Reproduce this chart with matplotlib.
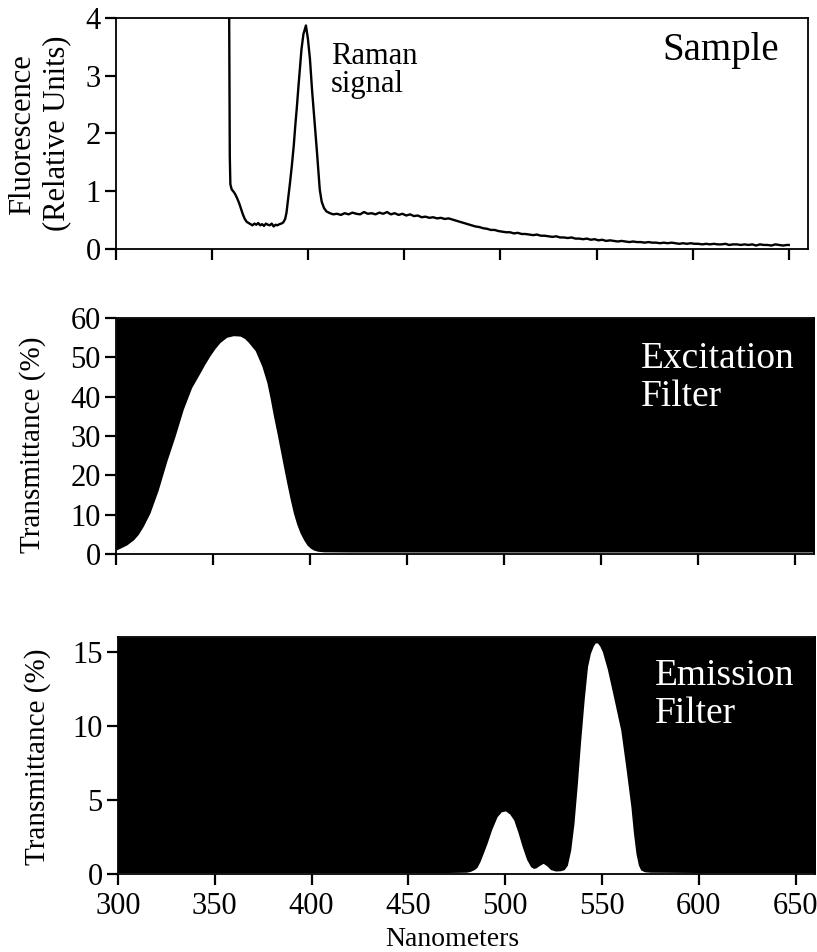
import matplotlib
matplotlib.use("Agg")
import matplotlib.pyplot as plt

plt.rcParams['font.family'] = ['Liberation Serif', 'DejaVu Serif']

# ---------------- data ----------------
xticks = [300, 350, 400, 450, 500, 550, 600, 650]

sample_nm = [358.8, 359.2, 359.5, 360.2, 361.0, 362.0, 363.0, 364.0, 365.0, 366.0, 367.0,
             368.0, 369.0, 370.0, 371.0, 372.0, 373.0, 374.0, 375.0, 376.0, 377.0, 378.0,
             379.0, 380.0, 381.0, 382.0, 383.0, 384.0, 385.0, 386.0, 387.0, 388.0, 388.7,
             389.5, 390.5, 391.5, 392.5, 393.3, 394.0, 395.0, 396.0, 396.5, 397.5, 398.8,
             399.8, 400.9, 402.0, 403.5, 404.5, 405.3, 406.0, 407.0, 408.2, 409.5, 411.3,
             413, 415, 417, 419, 421, 423, 425, 427, 429, 431, 433, 435, 437, 439, 441,
             443, 445, 447, 449, 451, 453, 455, 457, 459, 461, 463, 465, 467, 469, 471,
             473, 475, 477, 479, 481, 483, 485, 487, 489, 491, 493, 495, 497, 499, 501,
             503, 505, 507, 509, 511, 513, 515, 517, 519, 521, 523, 525, 527, 529, 531,
             533, 535, 537, 539, 541, 543, 545, 547, 549, 551, 553, 555, 557, 559, 561,
             563, 565, 567, 569, 571, 573, 575, 577, 579, 581, 583, 585, 587, 589, 591,
             593, 595, 597, 599, 601, 603, 605, 607, 609, 611, 613, 615, 617, 619, 621,
             623, 625, 627, 629, 631, 633, 635, 637, 639, 641, 643, 645, 647, 649, 650]
sample_val = [4.6, 1.6, 1.12, 1.03, 1.0, 0.95, 0.88, 0.80, 0.70, 0.60, 0.52,
              0.47, 0.45, 0.43, 0.41, 0.44, 0.42, 0.45, 0.41, 0.43, 0.40, 0.44,
              0.42, 0.41, 0.44, 0.39, 0.42, 0.41, 0.43, 0.44, 0.46, 0.52, 0.63,
              0.85, 1.14, 1.45, 1.80, 2.15, 2.42, 2.85, 3.25, 3.46, 3.72, 3.87,
              3.65, 3.29, 2.75, 2.13, 1.70, 1.35, 1.03, 0.82, 0.71, 0.65, 0.62,
              0.60, 0.61, 0.59, 0.62, 0.60, 0.63, 0.61, 0.60, 0.64, 0.61, 0.62, 0.60, 0.63, 0.61, 0.64,
              0.60, 0.62, 0.59, 0.61, 0.58, 0.60, 0.57, 0.58, 0.55, 0.56, 0.54, 0.55, 0.53, 0.54, 0.52,
              0.53, 0.51, 0.49, 0.47, 0.45, 0.43, 0.41, 0.39, 0.38, 0.36, 0.35, 0.33, 0.33, 0.31, 0.30,
              0.29, 0.29, 0.27, 0.28, 0.26, 0.26, 0.25, 0.24, 0.25, 0.23, 0.23, 0.22, 0.21, 0.22, 0.20,
              0.20, 0.19, 0.20, 0.18, 0.18, 0.17, 0.18, 0.16, 0.17, 0.15, 0.16, 0.14, 0.15, 0.14, 0.13,
              0.14, 0.13, 0.12, 0.13, 0.12, 0.12, 0.11, 0.12, 0.11, 0.11, 0.10, 0.11, 0.10, 0.11, 0.10,
              0.09, 0.10, 0.09, 0.10, 0.09, 0.09, 0.08, 0.09, 0.08, 0.09, 0.08, 0.08, 0.09, 0.07, 0.08,
              0.08, 0.07, 0.08, 0.07, 0.08, 0.06, 0.08, 0.07, 0.07, 0.06, 0.08, 0.07, 0.06, 0.07, 0.07]

excit_nm = [300, 302, 305.5, 309, 311.5, 314, 317.5, 321.8, 326.2, 330.5, 334.7, 339, 343.4,
            346, 348.5, 351, 353.7, 357.1, 360.5, 364, 366.3, 368.3, 371.8, 375.2, 377.8, 379.5,
            381.2, 383, 384.7, 386.4, 388.1, 389.8, 391.5, 393.2, 395, 396.8, 398.5, 400.2,
            401.9, 404, 407, 420, 450, 500, 550, 600, 662]
excit_val = [1.0, 1.45, 2.3, 3.6, 5.0, 7.0, 10.4, 16.3, 23.6, 30.0, 36.8, 42.3, 46.1,
             48.4, 50.4, 52.2, 53.8, 55.1, 55.5, 55.4, 54.8, 53.8, 51.7, 47.8, 43.6, 39.6,
             35.1, 30.8, 26.5, 22.2, 18.0, 14.0, 10.4, 7.6, 5.3, 3.6, 2.3, 1.5,
             1.0, 0.7, 0.55, 0.5, 0.5, 0.5, 0.5, 0.5, 0.5]

emis_nm = [299, 400, 470, 480, 482, 484, 485.4, 487, 488.5, 490.6, 493, 495.8, 498, 500.1,
           502.3, 504.4, 506.6, 508.8, 511, 513.1, 514.5, 515.7, 517.7, 519.6, 521.5, 523.4,
           526, 528.6, 530.5, 532.1, 533.8, 535.5, 537.2, 539, 540.8, 542.5, 544, 545.5,
           546.5, 547.6, 548.8, 550.2, 552.8, 556.2, 559.7, 562.3, 564.9, 566.2, 567.5,
           568.8, 570, 572, 575, 600, 662]
emis_val = [0.1, 0.1, 0.1, 0.12, 0.18, 0.3, 0.45, 0.85, 1.35, 2.07, 3.0, 3.87, 4.2, 4.26,
            4.05, 3.65, 2.8, 1.84, 1.0, 0.5, 0.38, 0.4, 0.58, 0.72, 0.55, 0.3,
            0.2, 0.22, 0.3, 0.6, 1.6, 3.4, 6.0, 9.05, 11.8, 14.0, 14.9, 15.4,
            15.6, 15.6, 15.4, 15.0, 13.8, 11.8, 9.7, 7.2, 4.55, 2.8, 1.4,
            0.6, 0.27, 0.15, 0.12, 0.1, 0.1]

XLIM = (300, 660)

# ---------------- figure ----------------
fig = plt.figure(figsize=(8.17, 9.52), dpi=100)

def px_axes(left, top, right, bottom):
    W, H = 817.0, 952.0
    return fig.add_axes([left / W, 1 - bottom / H, (right - left) / W, (bottom - top) / H])

ax1 = px_axes(116, 18, 808, 249)
ax2 = px_axes(116, 318, 814, 554)
ax3 = px_axes(118, 637, 815, 874)

tick_fs = 22
for ax in (ax1, ax2, ax3):
    ax.set_xlim(*XLIM)
    ax.set_xticks(xticks)
    ax.tick_params(axis='both', direction='out', length=8, width=1.6, labelsize=tick_fs, pad=3)
    for s in ax.spines.values():
        s.set_linewidth(1.3)

# Top panel: sample
ax1.plot(sample_nm, sample_val, color='black', lw=1.7, clip_on=True)
ax1.set_ylim(0, 4)
ax1.set_yticks([0, 1, 2, 3, 4])
ax1.set_xticklabels([])
ax1.text(0.311, 0.800, "Raman", transform=ax1.transAxes, fontsize=22, va='baseline', ha='left')
ax1.text(0.311, 0.680, "signal", transform=ax1.transAxes, fontsize=22, va='baseline', ha='left')
ax1.text(0.79, 0.818, "Sample", transform=ax1.transAxes, fontsize=28, va='baseline', ha='left')

# Middle panel: excitation filter
ax2.set_ylim(0, 60)
ax2.fill_between(excit_nm, excit_val, 60, color='black', lw=0)
ax2.set_yticks([0, 10, 20, 30, 40, 50, 60])
ax2.set_xticklabels([])
ax2.text(0.752, 0.788, "Excitation", transform=ax2.transAxes, fontsize=27, color='white',
         va='baseline', ha='left')
ax2.text(0.752, 0.627, "Filter", transform=ax2.transAxes, fontsize=27, color='white',
         va='baseline', ha='left')

# Bottom panel: emission filter
ax3.set_ylim(0, 16)
ax3.fill_between(emis_nm, emis_val, 16, color='black', lw=0)
ax3.set_yticks([0, 5, 10, 15])
ax3.set_xticklabels([str(t) for t in xticks])
ax3.tick_params(axis='x', pad=5)
ax3.text(0.770, 0.797, "Emission", transform=ax3.transAxes, fontsize=27, color='white',
         va='baseline', ha='left')
ax3.text(0.770, 0.637, "Filter", transform=ax3.transAxes, fontsize=27, color='white',
         va='baseline', ha='left')

# Axis labels
W, H = 817.0, 952.0
fig.text(23 / W, 1 - 135 / H, "Fluorescence", rotation=90, ha='center', va='center', fontsize=22)
fig.text(57 / W, 1 - 133 / H, "(Relative Units)", rotation=90, ha='center', va='center', fontsize=22)
fig.text(33 / W, 1 - 445 / H, "Transmittance (%)", rotation=90, ha='center', va='center', fontsize=21)
fig.text(38 / W, 1 - 757 / H, "Transmittance (%)", rotation=90, ha='center', va='center', fontsize=21)
fig.text(452 / W, 1 - 940 / H, "Nanometers", ha='center', va='center', fontsize=20)

fig.savefig("out.png", dpi=100)
